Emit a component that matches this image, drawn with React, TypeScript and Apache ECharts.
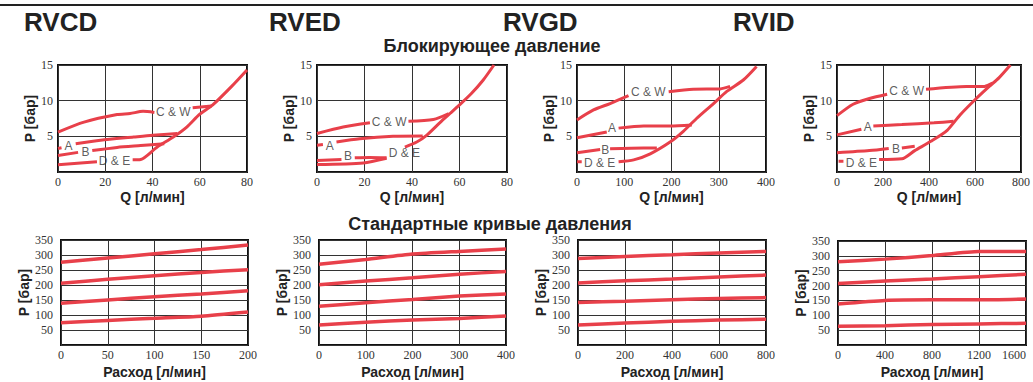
import React, { useEffect, useRef } from "react";
import * as echarts from "echarts";

const RED = "#E8404A";
const GAP = "-";

// ---- Blocking pressure curves (P [бар] vs Q [л/мин]) ----
const rvcdCW = [[0, 5.6], [11, 7.0], [25, 8.05], [30.5, 8.2], [36, 8.5], [40.8, 8.35], [48, GAP], [57, 9.0], [65, 9.25]];
const rvcdA = [[0, 3.3], [1.5, 3.4], [4, GAP], [7.5, 3.95], [18, 4.45], [32, 4.9], [40, 5.15], [50.5, 5.4]];
const rvcdB = [[0, 2.3], [8.5, 2.75], [12, GAP], [14.5, 3.0], [25, 3.45], [35, 3.7], [45, 3.95]];
const rvcdDE = [[0, 1.0], [16.5, 1.45], [24, GAP], [31.6, 1.7], [35, 1.75], [42, 3.5], [48.8, 4.9], [54.5, 6.3], [60, 8.1], [65.5, 9.4], [73.5, 12], [80, 14.3]];
const rvcdLabels = [[48.8, 8.45, "C & W"], [4.4, 3.7, "A"], [11.6, 2.75, "B"], [23.9, 1.5, "D & E"]];

const rvedCW = [[0, 5.4], [11, 6.3], [22.3, 6.9], [30, GAP], [38.5, 7.1], [49, 7.35], [55.5, 8.2]];
const rvedA = [[0, 3.75], [2.5, 3.85], [5, GAP], [8.2, 4.2], [18, 4.65], [32, 5.0], [44.5, 5.05]];
const rvedB = [[0, 1.6], [10.3, 1.75], [13, GAP], [15.9, 2.0], [22, 2.05], [29.3, 2.0]];
const rvedDE = [[0, 1.05], [19.5, 1.27], [29.3, 1.93], [33, GAP], [37, 3.5], [42, 4.2], [46, 5.1], [52, 7.0], [56, 8.2], [60, 9.4], [65, 11], [70, 12.9], [74.5, 15]];
const rvedLabels = [[30.4, 6.95, "C & W"], [5.4, 3.7, "A"], [13.1, 2.3, "B"], [36.8, 2.6, "D & E"]];

const rvgdCW = [[0, 7.3], [35, 8.7], [70, 9.6], [109, 10.7], [150, GAP], [194, 11.25], [246, 11.6], [303, 11.65], [324, 12.0]];
const rvgdA = [[0, 4.8], [63, 5.6], [75, GAP], [88, 6.15], [141, 6.45], [197, 6.45], [243, 6.6]];
const rvgdB = [[0, 2.7], [49, 3.15], [60, GAP], [70, 3.25], [141, 3.35], [169, 3.35]];
const rvgdDE = [[0, 1.45], [10, 1.45], [48, GAP], [88, 1.45], [120, 1.7], [155, 2.55], [197, 4.2], [225, 5.7], [253, 7.5], [289, 9.6], [317, 11.3], [352, 12.9], [380, 14.8]];
const rvgdLabels = [[151, 11.2, "C & W"], [74, 6.1, "A"], [60, 3.15, "B"], [48, 1.25, "D & E"]];

const rvidCW = [[0, 7.9], [70, 9.5], [141, 10.3], [218, 10.9], [300, GAP], [387, 11.6], [563, 12.0], [641, 12.0], [676, 12.45]];
const rvidA = [[0, 5.2], [106, 6.0], [130, GAP], [158, 6.45], [282, 6.65], [422, 6.9], [507, 7.1]];
const rvidB = [[0, 2.7], [141, 3.0], [225, 3.3], [250, GAP], [282, 3.35], [338, 3.6]];
const rvidDE = [[7, 1.5], [28, 1.5], [100, GAP], [183, 1.75], [282, 1.85], [338, 3.0], [408, 4.3], [479, 5.85], [535, 8.0], [599, 10.1], [662, 12.0], [704, 13.2], [754, 15]];
const rvidLabels = [[303, 11.4, "C & W"], [134, 6.3, "A"], [256, 3.25, "B"], [106, 1.3, "D & E"]];

// ---- Standard pressure curves (P [бар] vs Расход [л/мин]) ----
const rvcdFlow = [0, 50, 100, 150, 200];
const rvcdStd1 = [276, 290, 304, 318, 333];
const rvcdStd2 = [206, 219, 231, 242, 251];
const rvcdStd3 = [139, 150, 161, 170, 181];
const rvcdStd4 = [74, 82, 89, 96, 110];

const rvedFlow = [0, 100, 200, 300, 400];
const rvedStd1 = [269, 285, 303, 312, 320];
const rvedStd2 = [201, 213, 224, 236, 245];
const rvedStd3 = [129, 141, 152, 163, 170];
const rvedStd4 = [67, 76, 83, 88, 97];

const rvgdFlow = [0, 200, 400, 600, 800];
const rvgdStd1 = [288, 295, 301, 307, 312];
const rvgdStd2 = [207, 214, 220, 227, 233];
const rvgdStd3 = [142, 146, 151, 155, 158];
const rvgdStd4 = [67, 73, 79, 83, 86];

const rvidFlow = [0, 400, 800, 1200, 1600];
const rvidStd1 = [280, 289, 301, 315, 315];
const rvidStd2 = [207, 215, 222, 230, 238];
const rvidStd3 = [138, 150, 152, 152, 155];
const rvidStd4 = [63, 65, 69, 71, 73];

const models = ["RVCD", "RVED", "RVGD", "RVID"];
const topXMax = [80, 80, 400, 800];
const topXStep = [20, 20, 100, 200];
const bottomXMax = [200, 400, 800, 1600];
const bottomXStep = [50, 100, 200, 400];

const topCurves = [
  [rvcdCW, rvcdA, rvcdB, rvcdDE],
  [rvedCW, rvedA, rvedB, rvedDE],
  [rvgdCW, rvgdA, rvgdB, rvgdDE],
  [rvidCW, rvidA, rvidB, rvidDE],
];
const topLabels = [rvcdLabels, rvedLabels, rvgdLabels, rvidLabels];
const flows = [rvcdFlow, rvedFlow, rvgdFlow, rvidFlow];
const stdCurves = [
  [rvcdStd1, rvcdStd2, rvcdStd3, rvcdStd4],
  [rvedStd1, rvedStd2, rvedStd3, rvedStd4],
  [rvgdStd1, rvgdStd2, rvgdStd3, rvgdStd4],
  [rvidStd1, rvidStd2, rvidStd3, rvidStd4],
];

const topTitle = "Блокирующее давление";
const bottomTitle = "Стандартные кривые давления";
const topXName = "Q [л/мин]";
const bottomXName = "Расход [л/мин]";
const yName = "P [бар]";

// layout
const topGrids = [
  { left: 58, top: 65, width: 189, height: 107 },
  { left: 317, top: 65, width: 190, height: 107 },
  { left: 577, top: 65, width: 189, height: 107 },
  { left: 837, top: 65, width: 189, height: 107 },
];
const bottomGrids = [
  { left: 61, top: 240, width: 187, height: 105 },
  { left: 319, top: 240, width: 187, height: 105 },
  { left: 578, top: 240, width: 188, height: 105 },
  { left: 838, top: 241, width: 188, height: 104 },
];
const topYNameGap = [16, 13, 13, 10];
const bottomYNameGap = [28, 26, 30, 27];
const titleX = [24, 269, 503, 733];

const SERIF = "Liberation Serif";
const SANS = "Liberation Sans";

function buildOption() {
  const grid: any[] = [];
  const xAxis: any[] = [];
  const yAxis: any[] = [];
  const series: any[] = [];

  const rich = { s: { fontFamily: SERIF, fontSize: 12, color: "#333" } };
  const axisLabelX = {
    fontFamily: SERIF, fontSize: 12, color: "#333", margin: 4, rich,
    formatter: (v: number) => `{s|${v}}`,
  };
  const axisLabelY = {
    fontFamily: SERIF, fontSize: 12, color: "#333", margin: 5, rich,
    formatter: (v: number) => (v === 0 ? "" : `{s|${v}}`),
  };
  const splitLine = { show: true, lineStyle: { color: "#333", width: 1 } };
  const nameStyle = { fontFamily: SANS, fontWeight: "bold", fontSize: 14, color: "#222" };

  const addGrid = (g: any) => {
    grid.push({ ...g, show: true, borderColor: "#111", borderWidth: 2, backgroundColor: "transparent", containLabel: false });
    return grid.length - 1;
  };

  for (let i = 0; i < 4; i++) {
    const gi = addGrid(topGrids[i]);
    xAxis.push({
      type: "value", gridIndex: gi, min: 0, max: topXMax[i], interval: topXStep[i],
      axisLine: { show: false }, axisTick: { show: false }, splitLine,
      axisLabel: axisLabelX,
      name: topXName, nameLocation: "middle", nameGap: 18, nameTextStyle: nameStyle,
    });
    yAxis.push({
      type: "value", gridIndex: gi, min: 0, max: 15, interval: 5,
      axisLine: { show: false }, axisTick: { show: false }, splitLine,
      axisLabel: axisLabelY,
      name: yName, nameLocation: "middle", nameGap: topYNameGap[i], nameTextStyle: nameStyle,
    });
    topCurves[i].forEach((d) => {
      series.push({
        type: "line", xAxisIndex: gi, yAxisIndex: gi, data: d, showSymbol: false,
        symbol: "none", smooth: 0.25, connectNulls: false,
        lineStyle: { color: RED, width: 3, cap: "butt" }, z: 3, silent: true,
      });
    });
    series.push({
      type: "scatter", xAxisIndex: gi, yAxisIndex: gi, data: topLabels[i],
      symbolSize: 0, silent: true, z: 5,
      label: {
        show: true, position: "inside", formatter: (p: any) => p.value[2],
        fontFamily: SANS, fontSize: 12, color: "#333",
      },
    });
  }

  for (let i = 0; i < 4; i++) {
    const gi = addGrid(bottomGrids[i]);
    xAxis.push({
      type: "value", gridIndex: gi, min: 0, max: bottomXMax[i], interval: bottomXStep[i],
      axisLine: { show: false }, axisTick: { show: false }, splitLine,
      axisLabel: { ...axisLabelX, alignMaxLabel: i === 3 ? "right" : "center" },
      name: bottomXName, nameLocation: "middle", nameGap: 20, nameTextStyle: nameStyle,
    });
    yAxis.push({
      type: "value", gridIndex: gi, min: 0, max: 350, interval: 50,
      axisLine: { show: false }, axisTick: { show: false }, splitLine,
      axisLabel: { ...axisLabelY, margin: 8 },
      name: yName, nameLocation: "middle", nameGap: bottomYNameGap[i], nameTextStyle: nameStyle,
    });
    stdCurves[i].forEach((vals) => {
      series.push({
        type: "line", xAxisIndex: gi, yAxisIndex: gi,
        data: flows[i].map((x, k) => [x, vals[k]]),
        showSymbol: false, symbol: "none", smooth: 0.2,
        lineStyle: { color: RED, width: 3.5 }, z: 3, silent: true,
      });
    });
  }

  const graphic: any[] = [
    { type: "rect", shape: { x: 0, y: 4, width: 1033, height: 2 }, style: { fill: "#222" } },
    ...models.map((m, i) => ({
      type: "text", x: titleX[i], y: 22,
      style: { text: m, font: `bold 26px ${SANS}`, fill: "#222", textVerticalAlign: "middle" },
    })),
    {
      type: "text", x: 492, y: 46,
      style: { text: topTitle, font: `bold 18px ${SANS}`, fill: "#222", textAlign: "center", textVerticalAlign: "middle" },
    },
    {
      type: "text", x: 490, y: 224,
      style: { text: bottomTitle, font: `bold 18px ${SANS}`, fill: "#222", textAlign: "center", textVerticalAlign: "middle" },
    },
  ];

  return {
    animation: false, backgroundColor: "#fff",
    grid, xAxis, yAxis, series, graphic,
  };
}

export default function App() {
  const ref = useRef<HTMLDivElement>(null);
  useEffect(() => {
    if (!ref.current) return;
    const chart = echarts.init(ref.current, null, { renderer: "svg" });
    chart.setOption(buildOption() as any);
    return () => chart.dispose();
  }, []);
  return (
    <div
      ref={ref}
      style={{ position: "fixed", left: 0, top: 0, width: 1033, height: 382, background: "#fff" }}
    />
  );
}
